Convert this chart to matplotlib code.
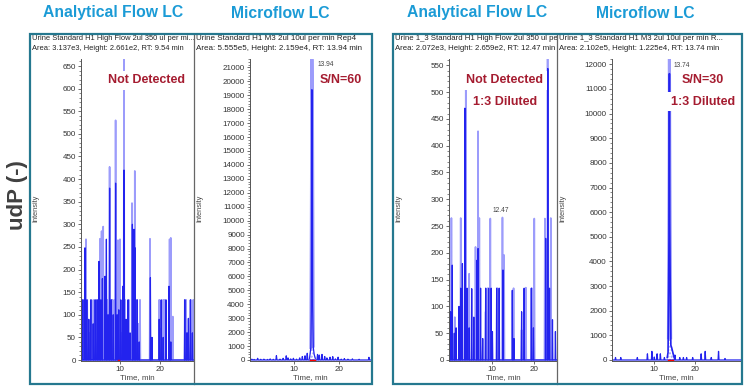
import matplotlib.pyplot as plt
from matplotlib.patches import Rectangle
from matplotlib.ticker import MultipleLocator, AutoMinorLocator

plt.rcParams['font.family'] = ['Liberation Sans', 'DejaVu Sans']

W, H = 750, 389

# --- Data: spikes as (time in min, intensity) ---
# Panel 1: Analytical Flow LC, urine standard
p1_light_t = [0.4, 0.8, 1.5, 1.8, 2.4, 2.9, 3.5, 4.2, 5.0, 5.4, 5.8, 6.0, 6.8, 7.4, 7.9, 8.2,
              8.75, 8.9, 9.5, 10.0, 10.4, 11.0, 11.25, 11.6, 12.2, 13.0, 13.7, 14.2, 14.6,
              15.0, 17.5, 17.8, 19.8, 20.3, 20.8, 21.2, 22.4, 22.7, 23.2, 26.2, 26.5, 27.0,
              27.7, 28.3]
p1_light_h = [133, 133, 267, 133, 60, 133, 133, 133, 268, 285, 295, 133, 133, 427, 133, 133,
              133, 530, 265, 267, 60, 700, 133, 50, 133, 347, 418, 133, 80,
              133, 268, 40, 133, 70, 133, 133, 267, 270, 96, 133, 133, 60,
              133, 133]
p1_dark_t = [0.3, 0.7, 1.25, 1.7, 2.2, 2.7, 3.3, 3.8, 4.3, 4.75, 5.2, 5.6, 6.25, 6.6, 7.0,
             7.4, 7.8, 8.3, 8.9, 9.3, 9.7, 10.2, 10.7, 11.0, 11.5, 12.0, 12.5, 13.1, 13.5,
             13.8, 14.3, 14.8, 17.6, 18.0, 19.8, 20.3, 20.8, 21.5, 22.25, 22.7, 26.2, 26.7,
             27.1, 27.6, 28.1]
p1_dark_h = [40, 133, 248, 133, 90, 133, 80, 133, 133, 218, 133, 180, 185, 267, 100,
             380, 133, 100, 391, 100, 111, 133, 163, 420, 90, 133, 60, 300, 289,
             248, 133, 40, 182, 50, 90, 133, 50, 133, 163, 40, 133, 60,
             92, 133, 60]

# Panel 2: Microflow LC, urine standard
p2_noise_t = [0.5, 1.0, 1.8, 2.5, 3.2, 4.0, 4.6, 5.3, 6.0, 6.8, 7.5, 8.2, 8.6, 9.2, 9.8, 10.5,
              11.2, 11.8, 12.4, 12.9, 15.2, 15.6, 16.2, 16.8, 17.3, 18.0, 18.6, 19.2, 19.8,
              20.5, 21.2, 22.0, 23.0, 24.5, 26.7]
p2_noise_h = [60, 40, 120, 50, 60, 40, 80, 50, 310, 60, 120, 300, 150, 80, 120, 60,
              150, 250, 300, 480, 400, 350, 400, 250, 150, 200, 240, 80, 200,
              60, 100, 60, 80, 50, 190]
p2_peak_t = [13.4, 13.55, 13.7, 13.8, 13.88, 13.94, 14.0, 14.1, 14.25, 14.45, 14.7]
p2_peak_h = [100, 500, 900, 3500, 12700, 19400, 18300, 3900, 900, 400, 120]
p2_apex_t = [13.7, 13.85, 13.94, 14.05, 14.25]
p2_apex_h = [900, 12700, 21590, 18300, 1000]

# Panel 3: Analytical Flow LC, urine 1:3 diluted
p3_light_t = [0.4, 1.2, 2.6, 3.8, 4.6, 6.1, 6.7, 7.0, 8.5, 8.9, 9.6, 11.3, 12.47, 12.85, 15.1,
              17.0, 18.0, 19.4, 20.0, 22.5, 23.15, 23.9]
p3_light_h = [265, 80, 265, 533, 161, 211, 427, 265, 90, 134, 264, 134, 266, 196, 134,
              56, 135, 134, 264, 264, 580, 265]
p3_dark_t = [0.2, 0.6, 1.1, 1.5, 2.2, 2.6, 3.0, 3.6, 4.1, 4.6, 5.2, 5.7, 6.4, 6.7, 7.3, 7.8,
             8.5, 9.2, 9.8, 10.1, 11.1, 11.7, 12.6, 14.8, 15.2, 17.0, 17.6, 19.3, 19.8, 22.7,
             23.2, 23.6, 24.3, 25.0]
p3_dark_h = [90, 177, 50, 60, 100, 134, 180, 470, 134, 60, 133, 80, 186, 208, 134, 40,
             134, 134, 134, 53, 134, 134, 168, 130, 40, 90, 134, 134, 60, 227,
             544, 134, 75, 53]

# Panel 4: Microflow LC, urine 1:3 diluted
p4_noise_t = [0.4, 1.7, 5.8, 8.3, 9.4, 10.0, 10.7, 11.5, 12.5, 15.1, 16.3, 17.2, 18.0, 19.5,
              21.6, 22.6, 24.1, 25.9, 27.5]
p4_noise_h = [100, 100, 100, 250, 350, 120, 250, 250, 100, 200, 100, 100, 100, 100,
              250, 350, 100, 350, 60]
p4_peak_t = [13.2, 13.4, 13.55, 13.65, 13.74, 13.82, 13.95, 14.1, 14.3, 14.6, 14.9]
p4_peak_h = [100, 300, 2900, 5500, 11620, 5500, 2900, 600, 500, 300, 100]
p4_apex_t = [13.5, 13.68, 13.74, 13.85, 14.05]
p4_apex_h = [900, 8000, 12250, 8000, 900]

titles = ["Analytical Flow LC", "Microflow LC", "Analytical Flow LC", "Microflow LC"]
headers = [
    ("Urine Standard H1 High Flow 2ul 350 ul per mi...",
     "Area: 3.137e3, Height: 2.661e2, RT: 9.54 min"),
    ("Urine Standard H1 M3 2ul 10ul per min Rep4",
     "Area: 5.555e5, Height: 2.159e4, RT: 13.94 min"),
    ("Urine 1_3 Standard H1 High Flow 2ul 350 ul per min",
     "Area: 2.072e3, Height: 2.659e2, RT: 12.47 min"),
    ("Urine 1_3 Standard H1 M3 2ul 10ul per min R...",
     "Area: 2.102e5, Height: 1.225e4, RT: 13.74 min"),
]
notes = [["Not Detected"], ["S/N=60"], ["Not Detected", "1:3 Diluted"], ["S/N=30", "1:3 Diluted"]]
peak_labels = [None, ("13.94", 13.94, 21590, 'left', (4, -4)),
               ("12.47", 12.47, 266, 'center', (-1, 5)),
               ("13.74", 13.74, 12250, 'left', (3, -5))]

DARK = '#2323ee'
LIGHT = '#9c9cfb'
TEAL = '#25788f'
CYAN = '#1b9bd6'
RED = '#a51c30'


def fx(px):
    return px / W


def fy(py):
    return 1 - py / H


def spikes(t, h, w, t0, t1):
    xs, ys = [t0], [0]
    for ti, hi in sorted(zip(t, h)):
        xs += [ti - w, ti, ti + w]
        ys += [0, hi, 0]
    xs.append(t1)
    ys.append(0)
    return xs, ys


fig = plt.figure(figsize=(W / 100, H / 100), dpi=100)

# --- Panel frames (pixel boxes) and plot areas ---
frames = [(30, 194), (194, 372), (393, 557), (557, 742)]
plots = [(81, 194, (0.25, 28.5), (-2.2, 665.5), 50, 650),
         (250, 371, (0.09, 27.16), (-72, 21600), 1000, 21000),
         (449, 557, (-0.17, 25.37), (-1.9, 561.8), 50, 550),
         (612, 741, (-0.47, 31.46), (-41, 12216), 1000, 12000)]
title_x = [113, 280, 477, 645]
note_x = [147, 341, 505, 703]
header_size = [5.4, 5.8, 5.6, 5.6]

axes = []
for i, ((fl, fr), (pl, pr, xl, yl, ystep, ymax)) in enumerate(zip(frames, plots)):
    fa = fig.add_axes([fx(fl), fy(384), (fr - fl) / W, 350 / H], zorder=1)
    fa.set_xlim(0, 1)
    fa.set_ylim(0, 1)
    fa.axis('off')
    l1, l2 = headers[i]
    fa.text(2 / (fr - fl), 1 - 5 / 350, l1, fontsize=header_size[i], color='#222222',
            va='center', ha='left', clip_on=True)
    fa.text(2 / (fr - fl), 1 - 14 / 350, l2, fontsize=header_size[i], color='#222222',
            va='center', ha='left', clip_on=True)
    fa.text(6 / (fr - fl), 1 - 174 / 350, "Intensity", rotation=90,
            fontsize=5.3, color='#444444', va='center', ha='center')

    ax = fig.add_axes([fx(pl), fy(361), (pr - pl) / W, 302 / H], zorder=2)
    ax.patch.set_alpha(0)
    ax.set_xlim(*xl)
    ax.set_ylim(*yl)
    ax.yaxis.set_major_locator(MultipleLocator(ystep))
    ax.yaxis.set_minor_locator(AutoMinorLocator(5))
    ax.set_yticks(list(range(0, ymax + 1, ystep)))
    ax.set_xticks([10, 20])
    ax.tick_params(labelsize=5.8, labelcolor='#333333', length=2.5, width=0.6,
                   color='#555555', pad=1.2)
    ax.tick_params(which='minor', length=1.3, width=0.5, color='#555555')
    for s in ['top', 'right']:
        ax.spines[s].set_visible(False)
    for s in ['left', 'bottom']:
        ax.spines[s].set_color('#555555')
        ax.spines[s].set_linewidth(0.7)
    ax.set_xlabel("Time, min", fontsize=5.8, color='#444444', labelpad=1)
    axes.append(ax)

# --- Traces ---
ax1, ax2, ax3, ax4 = axes
x, y = spikes(p1_light_t, p1_light_h, 0.1, 0.25, 28.5)
ax1.plot(x, y, color=LIGHT, lw=1.2)
x, y = spikes(p1_dark_t, p1_dark_h, 0.08, 0.25, 28.5)
ax1.plot(x, y, color=DARK, lw=0.9)
ax1.plot([9.4, 9.7], [0, 0], color='red', lw=1.0)

x, y = spikes(p2_noise_t, p2_noise_h, 0.12, 0.09, 27.16)
ax2.plot(x, y, color=DARK, lw=0.9)
ax2.fill_between(p2_peak_t, 0, p2_peak_h, facecolor='white', edgecolor=LIGHT, hatch='.....', lw=0)
ax2.plot(p2_apex_t, p2_apex_h, color=LIGHT, lw=2.2)
ax2.plot(p2_peak_t, p2_peak_h, color=DARK, lw=0.9)
ax2.plot([13.6, 14.6], [0, 0], color='red', lw=1.0)

x, y = spikes(p3_light_t, p3_light_h, 0.1, -0.17, 25.37)
ax3.plot(x, y, color=LIGHT, lw=1.2)
x, y = spikes(p3_dark_t, p3_dark_h, 0.08, -0.17, 25.37)
ax3.plot(x, y, color=DARK, lw=0.9)

x, y = spikes(p4_noise_t, p4_noise_h, 0.12, -0.47, 31.46)
ax4.plot(x, y, color=DARK, lw=0.9)
ax4.fill_between(p4_peak_t, 0, p4_peak_h, facecolor='white', edgecolor=LIGHT, hatch='.....', lw=0)
ax4.plot(p4_apex_t, p4_apex_h, color=LIGHT, lw=2.2)
ax4.plot(p4_peak_t, p4_peak_h, color=DARK, lw=1.2)
ax4.plot([13.4, 14.6], [0, 0], color='red', lw=1.0)

for ax, pk in zip(axes, peak_labels):
    if pk:
        ax.annotate(pk[0], (pk[1], pk[2]), xytext=pk[4], textcoords='offset points',
                    fontsize=4.8, color='#444444', ha=pk[3], va='center',
                    annotation_clip=False)

# --- Titles, notes, boxes ---
for i in range(4):
    fig.text(fx(title_x[i]), fy(13), titles[i], fontsize=11.3, fontweight='bold',
             color=CYAN, ha='center', va='center')
    for k, note in enumerate(notes[i]):
        fig.text(fx(note_x[i]), fy(80 + 22 * k), note, fontsize=9, fontweight='bold',
                 color=RED, ha='center', va='center', zorder=5,
                 bbox=dict(facecolor='white', edgecolor='none', pad=2.5))

for l, r in [(30, 372), (393, 742)]:
    fig.patches.append(Rectangle((fx(l), fy(384)), (r - l) / W, 350 / H, transform=fig.transFigure,
                                 fill=False, edgecolor=TEAL, lw=1.6, zorder=10))
for d in [194, 557]:
    fig.add_artist(plt.Line2D([fx(d), fx(d)], [fy(384), fy(34)], color='#666666', lw=0.9,
                              zorder=9))

fig.text(fx(18), fy(195), "udP (-)", rotation=90, fontsize=16, fontweight='bold',
         color='#404040', ha='center', va='center')

fig.savefig("out.png", dpi=100)
